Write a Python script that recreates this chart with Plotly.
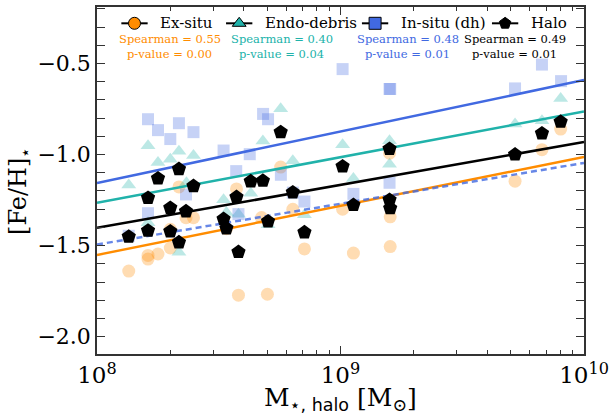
import numpy as np
import plotly.graph_objects as go

# Stellar halo mass [Msun] and mean stellar metallicity per component
exsitu_mass = [1.35e8, 1.62e8, 1.62e8, 1.78e8, 2.0e8, 2.0e8, 2.17e8, 2.32e8, 2.49e8, 3.40e8,
               3.74e8, 3.81e8, 4.74e8, 5.01e8, 5.68e8, 6.37e8, 7.11e8, 1.02e9, 1.13e9,
               1.59e9, 1.60e9, 1.60e9, 5.21e9, 6.72e9, 8.02e9]
exsitu_feh = [-1.640, -1.554, -1.574, -1.546, -1.513, -1.41, -1.178, -1.347, -1.347, -1.407,
              -1.189, -1.772, -1.346, -1.767, -1.069, -1.301, -1.518, -1.300, -1.541,
              -0.993, -1.342, -1.505, -1.146, -0.973, -0.860]

endo_mass = [1.35e8, 1.62e8, 1.62e8, 1.78e8, 2.0e8, 2.17e8, 2.17e8, 2.33e8, 2.49e8, 3.31e8,
             3.40e8, 3.81e8, 4.28e8, 4.80e8, 5.04e8, 5.68e8, 6.37e8, 7.11e8, 1.02e9, 1.13e9,
             1.59e9, 1.59e9, 5.21e9, 6.72e9, 8.02e9]
endo_feh = [-1.167, -0.952, -1.374, -1.044, -1.026, -0.982, -1.536, -1.155, -1.005, -1.248,
            -1.318, -1.328, -1.212, -0.925, -1.386, -0.748, -1.034, -1.330, -0.946, -1.131,
            -0.924, -1.053, -0.833, -0.815, -0.692]

insitu_mass = [1.35e8, 1.62e8, 1.62e8, 1.78e8, 2.0e8, 2.17e8, 2.32e8, 2.49e8, 3.31e8, 3.73e8,
               3.81e8, 4.24e8, 4.81e8, 5.04e8, 5.69e8, 6.37e8, 7.11e8, 1.02e9, 1.13e9,
               1.59e9, 1.60e9, 1.59e9, 5.21e9, 6.72e9, 8.05e9]
insitu_feh = [-1.446, -0.806, -1.322, -0.866, -0.915, -0.828, -1.219, -0.877, -0.978, -1.091,
              -1.327, -0.998, -0.777, -0.806, -1.111, -1.209, -1.258, -0.531, -1.216,
              -0.640, -0.640, -1.155, -0.637, -0.506, -0.597]

halo_mass = [1.35e8, 1.62e8, 1.62e8, 1.78e8, 2.0e8, 2.0e8, 2.17e8, 2.17e8, 2.32e8, 2.49e8,
             3.31e8, 3.40e8, 3.74e8, 3.81e8, 4.28e8, 4.80e8, 5.04e8, 5.68e8, 6.37e8, 7.11e8,
             1.02e9, 1.13e9, 1.59e9, 1.59e9, 1.60e9, 5.21e9, 6.72e9, 8.02e9]
halo_feh = [-1.451, -1.238, -1.418, -1.131, -1.293, -1.422, -1.080, -1.482, -1.312, -1.173,
            -1.354, -1.405, -1.233, -1.535, -1.147, -1.144, -1.367, -0.877, -1.208, -1.427,
            -1.065, -1.277, -0.969, -1.249, -1.295, -1.000, -0.884, -0.820]

# Linear fits [Fe/H] = slope * log10(M) + intercept
fit_names = ["Ex-situ", "Endo-debris", "In-situ (dh)", "Halo"]
fit_slope = [0.269, 0.2505, 0.2825, 0.2355]
fit_intercept = [-3.703, -3.269, -3.416, -3.286]
dashed_slope = 0.224
dashed_intercept = -3.286

# Spearman statistics
spearman_r = [0.55, 0.40, 0.48, 0.49]
spearman_p = [0.00, 0.04, 0.01, 0.01]

# Axis ticks
x_major = [1e8, 1e9, 1e10]
x_major_text = ["10<sup>8</sup>", "10<sup>9</sup>", "10<sup>10</sup>"]
x_minor = [k * 10 ** e for e in (8, 9) for k in range(2, 10)]
y_major = [-2.0, -1.5, -1.0, -0.5]

colors = ["#ff8c00", "#20b2aa", "#4169e1", "#000000"]
pale = ["rgba(255,140,0,0.3)", "rgba(32,178,170,0.3)", "rgba(65,105,225,0.3)", "#000000"]
symbols = ["circle", "triangle-up", "square", "pentagon"]
sizes = [13, 13, 12, 15]

SERIF = "DejaVu Serif"
AXIS_GREY = "#333333"
fig = go.Figure()

point_sets = [(exsitu_mass, exsitu_feh), (endo_mass, endo_feh), (insitu_mass, insitu_feh)]
for i, (m, f) in enumerate(point_sets):
    fig.add_trace(go.Scatter(x=m, y=f, mode="markers", showlegend=False,
                             marker=dict(symbol=symbols[i], size=sizes[i], color=pale[i],
                                         line=dict(width=0))))

logm = np.linspace(8, 10, 50)
mgrid = 10 ** logm
for i in range(4):
    fig.add_trace(go.Scatter(x=mgrid, y=fit_slope[i] * logm + fit_intercept[i], mode="lines",
                             showlegend=False, line=dict(color=colors[i], width=2.5)))
fig.add_trace(go.Scatter(x=mgrid, y=dashed_slope * logm + dashed_intercept, mode="lines",
                         showlegend=False,
                         line=dict(color="rgba(65,105,225,0.8)", width=2.5, dash="6px,4px")))

fig.add_trace(go.Scatter(x=halo_mass, y=halo_feh, mode="markers", showlegend=False,
                         marker=dict(symbol="pentagon", size=15, color="black",
                                     line=dict(width=0))))

# Legend glyphs on an overlay axis spanning the plot area (0..1 each way)
leg_x = [0.077, 0.292, 0.571, 0.838]
leg_y = 0.953
half = 0.027
for i in range(4):
    fig.add_trace(go.Scatter(x=[leg_x[i] - half, leg_x[i] + half], y=[leg_y, leg_y],
                             mode="lines", line=dict(color="black", width=2),
                             xaxis="x2", yaxis="y2", showlegend=False, hoverinfo="skip"))
    fig.add_trace(go.Scatter(x=[leg_x[i]], y=[leg_y], mode="markers",
                             marker=dict(symbol=symbols[i], size=12, color=colors[i],
                                         line=dict(color="black", width=1)),
                             xaxis="x2", yaxis="y2", showlegend=False, hoverinfo="skip"))
    fig.add_annotation(x=leg_x[i] + 0.049, y=leg_y, xref="x2", yref="y2", text=fit_names[i],
                       showarrow=False, xanchor="left", yanchor="middle",
                       font=dict(family=SERIF, size=15, color="black"))

stat_x = [0.149, 0.379, 0.638, 0.858]
for i in range(4):
    fig.add_annotation(x=stat_x[i], y=0.907, xref="x2", yref="y2",
                       text=f"Spearman = {spearman_r[i]:.2f}", showarrow=False,
                       xanchor="center", yanchor="middle",
                       font=dict(family=SERIF, size=11.5, color=colors[i]))
    fig.add_annotation(x=stat_x[i], y=0.866, xref="x2", yref="y2",
                       text=f"p-value = {spearman_p[i]:.2f}", showarrow=False,
                       xanchor="center", yanchor="middle",
                       font=dict(family=SERIF, size=11.5, color=colors[i]))

# Axis titles
fig.add_annotation(x=-0.158, y=0.47, xref="paper", yref="paper", text="[Fe/H]<sub>⋆</sub>",
                   textangle=-90, showarrow=False, xanchor="center", yanchor="middle",
                   font=dict(family=SERIF, size=24, color="black"))
fig.add_annotation(x=0.5, y=-0.13, xref="paper", yref="paper",
                   text="M<sub><span style='font-family:DejaVu Sans'>⋆, halo</span></sub> [M<sub>⊙</sub>]",
                   showarrow=False, xanchor="center", yanchor="middle",
                   font=dict(family=SERIF, size=25, color="black"))

axis_common = dict(showline=True, linecolor=AXIS_GREY, linewidth=1.5, mirror="allticks",
                   ticks="inside", ticklen=8, tickwidth=1.2, tickcolor=AXIS_GREY,
                   showgrid=False, zeroline=False)
x_range = [7.99999, 10.00001]

fig.update_layout(
    width=614, height=416,
    margin=dict(l=97, r=24, t=5, b=62),
    paper_bgcolor="white", plot_bgcolor="white",
    showlegend=False,
    xaxis=dict(type="log", range=x_range, tickmode="array",
               tickvals=x_major, ticktext=x_major_text, ticklabeloverflow="allow",
               tickfont=dict(family=SERIF, size=23, color="black"),
               **axis_common),
    # minor decade ticks on a twin log axis
    xaxis3=dict(type="log", range=x_range, overlaying="x", tickmode="array",
                tickvals=x_minor, showticklabels=False, ticks="inside", ticklen=4,
                tickwidth=1.0, tickcolor=AXIS_GREY, mirror="allticks", showline=True,
                linecolor=AXIS_GREY, linewidth=1.5, showgrid=False, zeroline=False),
    yaxis=dict(range=[-2.095, -0.19], tickvals=y_major,
               ticktext=[f"−{abs(v):.1f}" for v in y_major],
               tickfont=dict(family=SERIF, size=22, color="black"),
               minor=dict(ticks="inside", ticklen=4, dtick=0.1, tickcolor=AXIS_GREY,
                          showgrid=False),
               **axis_common),
    xaxis2=dict(overlaying="x", range=[0, 1], visible=False),
    yaxis2=dict(overlaying="y", range=[0, 1], visible=False),
)

# an invisible trace binds the minor-tick axis to the plot
fig.add_trace(go.Scatter(x=[1e9], y=[-1.0], xaxis="x3", mode="markers",
                         marker=dict(opacity=0), showlegend=False, hoverinfo="skip"))

fig.write_html("out.html")
